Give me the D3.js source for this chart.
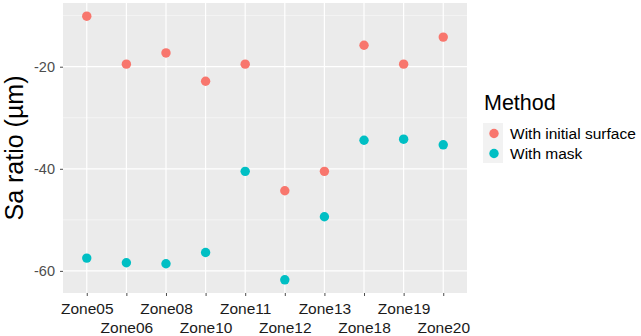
<!DOCTYPE html>
<html>
<head>
<meta charset="utf-8">
<script src="https://cdn.jsdelivr.net/npm/d3@7"></script>
<style>
  body { margin: 0; background: #fff; }
  text { font-family: "Liberation Sans", Arial, sans-serif; }
</style>
</head>
<body>
<div id="chart"></div>
<script>
// Data
const zones = ["Zone05", "Zone06", "Zone08", "Zone10", "Zone11", "Zone12", "Zone13", "Zone18", "Zone19", "Zone20"];
const initialSurface = [-10.1, -19.5, -17.3, -22.85, -19.5, -44.3, -40.5, -15.8, -19.5, -14.2];
const withMask = [-57.5, -58.4, -58.6, -56.4, -40.5, -61.75, -49.4, -34.4, -34.2, -35.3];
const methods = ["With initial surface", "With mask"];
const methodColors = ["#F8766D", "#00BFC4"];
const yTicks = [-60, -40, -20];
const yMinor = [-50, -30, -10];

const W = 641, H = 336;
const margin = { top: 3, right: 174, bottom: 43, left: 63 };
const width = W - margin.left - margin.right;
const height = H - margin.top - margin.bottom;

const points = [];
zones.forEach((z, i) => {
  points.push({ zone: z, value: initialSurface[i], method: methods[0] });
  points.push({ zone: z, value: withMask[i], method: methods[1] });
});

const svg = d3.select("#chart").append("svg")
  .attr("width", W)
  .attr("height", H);

const g = svg.append("g")
  .attr("transform", `translate(${margin.left},${margin.top})`);

// ggplot-like discrete scale with 0.6 expansion each side
const step = width / (zones.length + 0.2);
const xScale = d3.scalePoint()
  .domain(zones)
  .range([0.6 * step, width - 0.6 * step]);

const ext = d3.extent(points, d => d.value);
const pad = (ext[1] - ext[0]) * 0.05;
const yScale = d3.scaleLinear()
  .domain([ext[0] - pad, ext[1] + pad])
  .range([height, 0]);

const color = d3.scaleOrdinal().domain(methods).range(methodColors);

// Panel background
g.append("rect")
  .attr("width", width)
  .attr("height", height)
  .attr("fill", "#EBEBEB");

// Minor grid
g.selectAll(".minor")
  .data(yMinor)
  .enter().append("line")
  .attr("x1", 0).attr("x2", width)
  .attr("y1", d => yScale(d)).attr("y2", d => yScale(d))
  .attr("stroke", "#fff")
  .attr("stroke-width", 0.6)
  .attr("opacity", 0.8);

// Major grid
g.selectAll(".hmajor")
  .data(yTicks)
  .enter().append("line")
  .attr("x1", 0).attr("x2", width)
  .attr("y1", d => yScale(d)).attr("y2", d => yScale(d))
  .attr("stroke", "#fff")
  .attr("stroke-width", 1.2);

g.selectAll(".vmajor")
  .data(zones)
  .enter().append("line")
  .attr("x1", d => xScale(d)).attr("x2", d => xScale(d))
  .attr("y1", 0).attr("y2", height)
  .attr("stroke", "#fff")
  .attr("stroke-width", 1.2);

// Y axis
const yAxis = g.append("g")
  .call(d3.axisLeft(yScale).tickValues(yTicks).tickSize(3).tickPadding(5)
    .tickFormat(d => String(d)));
yAxis.select(".domain").remove();
yAxis.selectAll(".tick line").attr("stroke", "#4d4d4d");
yAxis.selectAll("text")
  .style("font-size", "14.5px")
  .attr("fill", "#4d4d4d");

// X axis with staggered labels
const xAxis = g.append("g")
  .attr("transform", `translate(0,${height})`)
  .call(d3.axisBottom(xScale).tickSize(3));
xAxis.select(".domain").remove();
xAxis.selectAll(".tick line").attr("stroke", "#4d4d4d");
xAxis.selectAll("text")
  .style("font-size", "15.5px")
  .attr("fill", "#1a1a1a")
  .attr("dy", 0)
  .attr("y", (d, i) => i % 2 === 0 ? 21 : 39.5);

// Points
g.selectAll(".pt")
  .data(points)
  .enter().append("circle")
  .attr("cx", d => xScale(d.zone))
  .attr("cy", d => yScale(d.value))
  .attr("r", 4.7)
  .attr("fill", d => color(d.method));

// Y axis title
svg.append("text")
  .attr("transform", `translate(23,${margin.top + height / 2}) rotate(-90)`)
  .attr("text-anchor", "middle")
  .style("font-size", "25px")
  .attr("fill", "#000")
  .text("Sa ratio (µm)");

// Legend
const legend = svg.append("g")
  .attr("transform", `translate(483,0)`);

legend.append("text")
  .attr("x", 1)
  .attr("y", 110)
  .style("font-size", "21.5px")
  .attr("fill", "#000")
  .text("Method");

const items = legend.selectAll(".item")
  .data(methods)
  .enter().append("g")
  .attr("transform", (d, i) => `translate(0,${123 + i * 20})`);

items.append("rect")
  .attr("width", 20)
  .attr("height", 20)
  .attr("fill", "#F2F2F2");

items.append("circle")
  .attr("cx", 11)
  .attr("cy", 10.5)
  .attr("r", 4.7)
  .attr("fill", d => color(d));

items.append("text")
  .attr("x", 27)
  .attr("y", 10.5)
  .attr("dy", "0.35em")
  .style("font-size", "15.5px")
  .attr("fill", "#000")
  .text(d => d);
</script>
</body>
</html>
